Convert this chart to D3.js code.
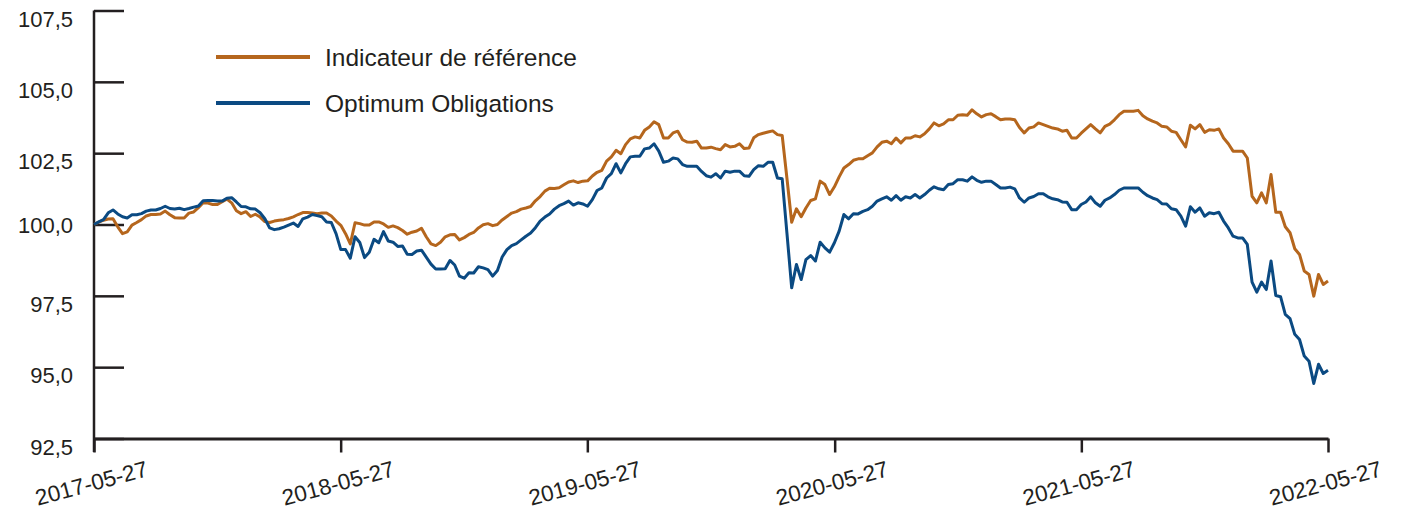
<!DOCTYPE html>
<html lang="fr">
<head>
<meta charset="UTF-8">
<title>Indicateur de référence vs Optimum Obligations</title>
<script src="https://cdn.jsdelivr.net/npm/d3@7"></script>
<style>
  body { margin: 0; background: #fff; }
  svg text { font-family: "Liberation Sans", Arial, sans-serif; fill: #231f20; }
</style>
</head>
<body>
<svg id="chart" width="1405" height="510"></svg>
<script>
// weekly values, 2017-05-27 -> 2022-05-27
let startDate = "2017-05-27"
let endDate = "2022-05-27"

let benchmark = [
  100.0, 100.08, 100.15, 100.19, 100.2, 99.92, 99.68, 99.74, 99.98, 100.07,
  100.17, 100.3, 100.35, 100.35, 100.37, 100.47, 100.34, 100.24, 100.23, 100.23,
  100.4, 100.44, 100.59, 100.76, 100.75, 100.7, 100.7, 100.8, 100.89, 100.76,
  100.48, 100.38, 100.45, 100.28, 100.36, 100.26, 100.1, 100.07, 100.12, 100.15,
  100.17, 100.21, 100.27, 100.35, 100.42, 100.42, 100.4, 100.38, 100.4, 100.4,
  100.3, 100.12, 99.97, 99.68, 99.32, 100.06, 100.03, 99.98, 99.98, 100.09,
  100.09, 100.02, 99.9, 99.95, 99.89, 99.79, 99.66, 99.73, 99.77, 99.87,
  99.57, 99.32, 99.26, 99.38, 99.57, 99.64, 99.65, 99.46, 99.54, 99.65,
  99.72, 99.88, 99.99, 100.03, 99.96, 100.0, 100.16, 100.28, 100.4, 100.45,
  100.54, 100.58, 100.63, 100.83, 100.98, 101.17, 101.27, 101.26, 101.29, 101.39,
  101.49, 101.53, 101.47, 101.52, 101.53, 101.7, 101.83, 101.9, 102.22, 102.37,
  102.6, 102.48, 102.8, 103.0, 103.07, 103.03, 103.3, 103.42, 103.6, 103.5,
  103.03, 103.03, 103.21, 103.27, 102.97, 102.89, 102.88, 102.92, 102.68, 102.68,
  102.71, 102.66, 102.62, 102.8, 102.72, 102.74, 102.83, 102.66, 102.68, 103.04,
  103.15, 103.2, 103.24, 103.28, 103.15, 103.12, 101.62, 100.08, 100.55, 100.27,
  100.58, 100.84, 100.9, 101.52, 101.4, 101.05, 101.32, 101.67, 101.98, 102.1,
  102.25, 102.3, 102.3, 102.41, 102.51, 102.72, 102.88, 102.92, 102.83, 103.03,
  102.86, 103.03, 103.03, 103.11, 103.07, 103.18, 103.35, 103.56, 103.46, 103.53,
  103.67, 103.67, 103.83, 103.85, 103.83, 104.02, 103.88, 103.77, 103.85, 103.88,
  103.78, 103.67, 103.7, 103.7, 103.67, 103.4, 103.21, 103.38, 103.42, 103.56,
  103.5, 103.44, 103.38, 103.35, 103.27, 103.3, 103.03, 103.03, 103.2, 103.35,
  103.5, 103.35, 103.21, 103.44, 103.52, 103.67, 103.85, 103.97, 103.97, 103.97,
  104.0, 103.81, 103.7, 103.62, 103.56, 103.44, 103.42, 103.27, 103.23, 102.97,
  102.72, 103.48, 103.35, 103.5, 103.23, 103.32, 103.3, 103.35, 103.03, 102.83,
  102.57, 102.57, 102.57, 102.33, 100.99, 100.76, 101.11, 100.76, 101.75, 100.43,
  100.43, 99.92, 99.71, 99.15, 98.95, 98.37, 98.25, 97.49, 98.25, 97.9, 98.02
]

let fund = [
  100.0, 100.09, 100.17, 100.41, 100.51, 100.37, 100.27, 100.23, 100.34, 100.34,
  100.38, 100.47, 100.51, 100.51, 100.56, 100.64, 100.56, 100.54, 100.57, 100.52,
  100.56, 100.61, 100.65, 100.83, 100.84, 100.84, 100.82, 100.82, 100.92, 100.94,
  100.79, 100.63, 100.62, 100.55, 100.54, 100.41, 100.2, 99.88, 99.82, 99.85,
  99.91, 99.98, 100.05, 99.93, 100.2, 100.26, 100.35, 100.31, 100.27, 100.09,
  100.07, 99.68, 99.12, 99.12, 98.82, 99.57, 99.37, 98.84, 99.03, 99.48,
  99.36, 99.75, 99.42, 99.38, 99.23, 99.25, 98.96, 98.95, 99.07, 99.1,
  98.86, 98.61, 98.44, 98.44, 98.45, 98.74, 98.58, 98.19, 98.12, 98.31,
  98.3, 98.52, 98.48, 98.42, 98.19, 98.39, 98.86, 99.12, 99.26, 99.33,
  99.46, 99.59, 99.7, 99.89, 100.12, 100.26, 100.37, 100.54, 100.66, 100.73,
  100.82, 100.68, 100.76, 100.72, 100.64, 100.87, 101.19, 101.28, 101.63, 101.78,
  102.13, 101.81, 102.13, 102.37, 102.39, 102.39, 102.65, 102.68, 102.83, 102.57,
  102.18, 102.22, 102.33, 102.3, 102.1, 102.04, 102.04, 102.04, 101.86, 101.71,
  101.66, 101.78, 101.63, 101.87, 101.83, 101.87, 101.87, 101.71, 101.69, 101.92,
  102.06, 102.04, 102.18, 102.18, 101.63, 101.6, 99.7, 97.78, 98.6, 98.07,
  98.77, 98.91, 98.72, 99.38, 99.18, 99.03, 99.36, 99.77, 100.35, 100.2,
  100.38, 100.37, 100.46, 100.52, 100.64, 100.82, 100.9, 100.97, 100.85, 101.01,
  100.85, 100.97, 100.93, 101.05, 100.93, 101.05, 101.2, 101.32, 101.25, 101.22,
  101.4, 101.43, 101.57, 101.57, 101.52, 101.67, 101.55, 101.48, 101.52, 101.52,
  101.4, 101.28, 101.28, 101.31, 101.25, 100.93, 100.78, 100.93, 100.98, 101.08,
  101.08, 100.97, 100.9, 100.87, 100.79, 100.78, 100.52, 100.52, 100.7, 100.79,
  100.97, 100.76, 100.64, 100.85, 100.93, 101.05, 101.2, 101.28, 101.28, 101.28,
  101.28, 101.13, 101.01, 100.93, 100.87, 100.73, 100.72, 100.55, 100.52, 100.29,
  99.94, 100.62, 100.43, 100.58, 100.29, 100.41, 100.38, 100.43, 100.12, 99.88,
  99.59, 99.53, 99.53, 99.3, 97.98, 97.63, 97.98, 97.72, 98.72, 97.51,
  97.47, 96.85, 96.7, 96.15, 95.97, 95.39, 95.21, 94.43, 95.1, 94.78, 94.89
]

let xTicks = ["2017-05-27", "2018-05-27", "2019-05-27", "2020-05-27", "2021-05-27", "2022-05-27"]
let yTicks = [92.5, 95, 97.5, 100, 102.5, 105, 107.5]

let seriesNames = ["Indicateur de référence", "Optimum Obligations"]
let seriesColors = ["#b5661d", "#0b4a82"]

let parse = d3.timeParse("%Y-%m-%d")
let t0 = parse(startDate), t1 = parse(endDate)
let step = (t1 - t0) / (benchmark.length - 1)
let dates = benchmark.map((d, i) => new Date(+t0 + i * step))

let svg = d3.select("#chart")
let axisColor = "#231f20"
let font = '"Liberation Sans", Arial, sans-serif'

let x = d3.scaleTime().domain([t0, t1]).range([94, 1328])
let y = d3.scaleLinear().domain([92.5, 107.5]).range([438.5, 10.5])

let frLocale = d3.formatLocale({ decimal: ",", thousands: " ", grouping: [3], currency: ["", " $"] })
let fmtY = frLocale.format(".1f")

// y axis: ticks pointing into the plot, labels to the left
let yAxis = d3.axisLeft(y).tickValues(yTicks).tickFormat(fmtY).tickSizeInner(-30).tickSizeOuter(0).tickPadding(21)
let gy = svg.append("g").attr("transform", "translate(94,0)").call(yAxis)
gy.select(".domain").remove()
gy.selectAll(".tick line").attr("stroke", axisColor).attr("stroke-width", 2.5)
gy.selectAll(".tick text")
  .attr("font-size", 22).attr("fill", axisColor).style("font-family", font)
  .attr("dy", null).attr("dominant-baseline", "central")
  .attr("y", d => d === 100 ? 0 : 8)   // labels sit a little under their tick, except 100,0

svg.append("line")
  .attr("x1", 94).attr("x2", 94).attr("y1", y(107.5)).attr("y2", 452)
  .attr("stroke", axisColor).attr("stroke-width", 2.5)

// x axis
let xAxis = d3.axisBottom(x).tickValues(xTicks.map(parse)).tickFormat(d3.timeFormat("%Y-%m-%d")).tickSizeInner(14).tickSizeOuter(0)
let gx = svg.append("g").attr("transform", `translate(0,${y(92.5)})`).call(xAxis)
gx.select(".domain").attr("stroke", axisColor).attr("stroke-width", 3)
gx.selectAll(".tick line").attr("stroke", axisColor).attr("stroke-width", 2.5)
gx.selectAll(".tick text")
  .attr("font-size", 22.5).attr("fill", axisColor).style("font-family", font)
  .attr("text-anchor", "middle").attr("dy", null).attr("dominant-baseline", "central")
  .attr("y", null)
  .attr("transform", "translate(-3,45) rotate(-15)")

// lines
let line = d3.line().x((d, i) => x(dates[i])).y(d => y(d))
;[benchmark, fund].forEach((s, k) => {
  svg.append("path").datum(s)
    .attr("d", line)
    .attr("fill", "none")
    .attr("stroke", seriesColors[k])
    .attr("stroke-width", 3)
    .attr("stroke-linejoin", "round")
})

// legend
let legend = svg.append("g")
seriesNames.forEach((n, k) => {
  let ly = 57 + k * 46
  legend.append("line").attr("x1", 216).attr("x2", 310).attr("y1", ly).attr("y2", ly)
    .attr("stroke", seriesColors[k]).attr("stroke-width", 4)
  legend.append("text").attr("x", 325).attr("y", ly).attr("dominant-baseline", "central")
    .attr("font-size", 24.5).text(n)
})
</script>
</body>
</html>
